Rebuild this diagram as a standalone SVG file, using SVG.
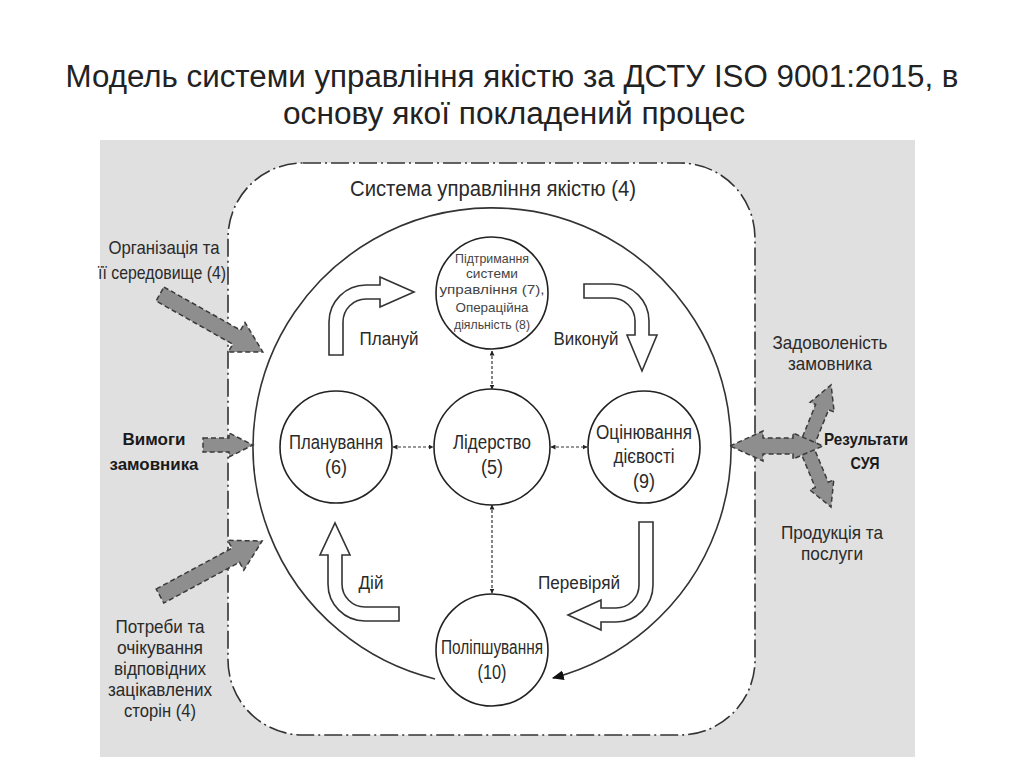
<svg xmlns="http://www.w3.org/2000/svg" width="1024" height="767" viewBox="0 0 1024 767">
<defs>
<style>
.t{font-family:"Liberation Sans",Arial,sans-serif;fill:#2a2a2a;text-anchor:middle}
.title{font-family:"Liberation Sans",Arial,sans-serif;fill:#222;font-size:31px;text-anchor:middle}
.b{font-family:"Liberation Sans",Arial,sans-serif;font-weight:bold;fill:#1a1a1a;text-anchor:middle;font-size:17px}
.s{font-size:13px;fill:#444}
.c{font-size:20px}
.o{font-size:19px}
.l{font-size:18px}
.node{fill:#fff;stroke:#222;stroke-width:1.6}
.bent{fill:#fff;stroke:#333;stroke-width:1.6;stroke-linejoin:miter}
.garrow{fill:#8e8e8e;stroke:#3a3a3a;stroke-width:1.5;stroke-dasharray:5 3}
.conn{fill:none;stroke:#333;stroke-width:1.2;stroke-dasharray:3 2}
</style>
<marker id="ah" viewBox="0 0 10 10" refX="9" refY="5" markerWidth="5" markerHeight="5" orient="auto-start-reverse" markerUnits="userSpaceOnUse">
<path d="M0,0 L10,5 L0,10 Z" fill="#222"/>
</marker>
<marker id="ahb" viewBox="0 0 10 10" refX="9" refY="5" markerWidth="12" markerHeight="12" orient="auto" markerUnits="userSpaceOnUse">
<path d="M0,1 L10,5 L0,9 Z" fill="#111"/>
</marker>
</defs>
<rect x="0" y="0" width="1024" height="767" fill="#fff"/>
<text class="title" x="512" y="87" textLength="893" lengthAdjust="spacingAndGlyphs">Модель системи управління якістю за ДСТУ ISO 9001:2015, в</text>
<text class="title" x="514" y="124" textLength="462" lengthAdjust="spacingAndGlyphs">основу якої покладений процес</text>
<rect x="100" y="140" width="815" height="617" fill="#e0e0e0"/>
<g id="system">
<rect x="228" y="163" width="527" height="572" rx="75" ry="75" fill="#fff" stroke="#333" stroke-width="1.6" stroke-dasharray="18 4 2 4"/>
<text class="t" x="493" y="196" font-size="22" textLength="286" lengthAdjust="spacingAndGlyphs">Система управління якістю (4)</text>
</g>
<g id="connectors">
<path class="conn" d="M 435 679 A 239 239 0 1 1 553 678" style="stroke-dasharray:none;stroke-width:1.6" marker-end="url(#ahb)"/>
<line class="conn" x1="492" y1="351" x2="492" y2="389" marker-start="url(#ah)" marker-end="url(#ah)"/>
<line class="conn" x1="393" y1="447" x2="433" y2="447" marker-start="url(#ah)" marker-end="url(#ah)"/>
<line class="conn" x1="551" y1="447" x2="587" y2="447" marker-start="url(#ah)" marker-end="url(#ah)"/>
<line class="conn" x1="492" y1="505" x2="492" y2="593" marker-start="url(#ah)" marker-end="url(#ah)"/>
</g>
<g id="cycle-arrows">
<path class="bent" d="M 329 355 L 329 322 A 37 37 0 0 1 366 285 L 380 285 L 380 277 L 414 292 L 380 307 L 380 299 L 366 299 A 23 23 0 0 0 343 322 L 343 355 Z"/>
<path class="bent" d="M 584 284 L 612 284 A 37 37 0 0 1 649 321 L 649 335 L 657 335 L 642 371 L 627 335 L 635 335 L 635 321 A 23 23 0 0 0 612 298 L 584 298 Z"/>
<path class="bent" d="M 639 522 L 653 522 L 653 585 A 37 37 0 0 1 616 622 L 601 622 L 601 630 L 568 615 L 601 600 L 601 608 L 616 608 A 23 23 0 0 0 639 585 Z"/>
<path class="bent" d="M 342 555 L 350 555 L 335 523 L 320 555 L 328 555 L 328 584 A 37 37 0 0 0 365 621 L 399 621 L 399 607 L 365 607 A 23 23 0 0 1 342 584 Z"/>
<text class="t l" x="389" y="345" textLength="59" lengthAdjust="spacingAndGlyphs">Плануй</text>
<text class="t l" x="586" y="345" textLength="65" lengthAdjust="spacingAndGlyphs">Виконуй</text>
<text class="t l" x="371" y="589" textLength="25" lengthAdjust="spacingAndGlyphs">Дій</text>
<text class="t l" x="579" y="589" textLength="82" lengthAdjust="spacingAndGlyphs">Перевіряй</text>
</g>
<g id="node-support">
<circle class="node" cx="492" cy="293" r="56"/>
<text class="t s" x="492" y="263" textLength="74" lengthAdjust="spacingAndGlyphs">Підтримання</text>
<text class="t s" x="492" y="278" textLength="52" lengthAdjust="spacingAndGlyphs">системи</text>
<text class="t s" x="492" y="294" textLength="105" lengthAdjust="spacingAndGlyphs">управління (7),</text>
<text class="t s" x="492" y="312" textLength="73" lengthAdjust="spacingAndGlyphs">Операційна</text>
<text class="t s" x="492" y="329" textLength="76" lengthAdjust="spacingAndGlyphs">діяльність (8)</text>
</g>
<g id="node-leadership">
<circle class="node" cx="492" cy="447" r="58"/>
<text class="t c" x="492" y="449" textLength="78" lengthAdjust="spacingAndGlyphs">Лідерство</text>
<text class="t c" x="492" y="474" textLength="22" lengthAdjust="spacingAndGlyphs">(5)</text>
</g>
<g id="node-planning">
<circle class="node" cx="336" cy="447" r="56"/>
<text class="t c" x="336" y="449" textLength="94" lengthAdjust="spacingAndGlyphs">Планування</text>
<text class="t c" x="336" y="474" textLength="22" lengthAdjust="spacingAndGlyphs">(6)</text>
</g>
<g id="node-evaluation">
<circle class="node" cx="644" cy="447" r="56"/>
<text class="t c" x="644" y="439" textLength="96" lengthAdjust="spacingAndGlyphs">Оцінювання</text>
<text class="t c" x="644" y="463" textLength="61" lengthAdjust="spacingAndGlyphs">дієвості</text>
<text class="t c" x="644" y="488" textLength="22" lengthAdjust="spacingAndGlyphs">(9)</text>
</g>
<g id="node-improvement">
<circle class="node" cx="492" cy="650" r="56"/>
<text class="t c" x="492" y="654" textLength="102" lengthAdjust="spacingAndGlyphs">Поліпшування</text>
<text class="t c" x="492" y="679" textLength="29" lengthAdjust="spacingAndGlyphs">(10)</text>
</g>
<g id="input-org">
<text class="t o" x="164" y="254" textLength="111" lengthAdjust="spacingAndGlyphs">Організація та</text>
<text class="t o" x="162" y="279" textLength="128" lengthAdjust="spacingAndGlyphs">її середовище (4)</text>
<polygon class="garrow" transform="translate(160,294) rotate(29.4)" points="0,-8 88,-8 88,-17 118,0 88,17 88,8 0,8"/>
</g>
<g id="input-req">
<text class="b" x="154" y="445" textLength="63" lengthAdjust="spacingAndGlyphs">Вимоги</text>
<text class="b" x="154" y="470" textLength="89" lengthAdjust="spacingAndGlyphs">замовника</text>
<polygon class="garrow" points="203,438 229,438 229,433 253,445 229,457 229,452 203,452"/>
</g>
<g id="input-needs">
<polygon class="garrow" transform="translate(160,596) rotate(-28.3)" points="0,-8 86,-8 86,-17 116,0 86,17 86,8 0,8"/>
<text class="t o" x="160" y="633" textLength="89" lengthAdjust="spacingAndGlyphs">Потреби та</text>
<text class="t o" x="160" y="654" textLength="86" lengthAdjust="spacingAndGlyphs">очікування</text>
<text class="t o" x="160" y="675" textLength="92" lengthAdjust="spacingAndGlyphs">відповідних</text>
<text class="t o" x="160" y="696" textLength="104" lengthAdjust="spacingAndGlyphs">зацікавлених</text>
<text class="t o" x="160" y="717" textLength="72" lengthAdjust="spacingAndGlyphs">сторін (4)</text>
</g>
<g id="output-results">
<polygon class="garrow" transform="translate(806,447) rotate(-68)" points="0,-7 43,-7 43,-13 67,0 43,13 43,7 0,7"/>
<polygon class="garrow" transform="translate(806,447) rotate(67.4)" points="0,-7 41,-7 41,-13 65,0 41,13 41,7 0,7"/>
<polygon class="garrow" points="730,446 763,431 763,438 793,438 793,433 823,446 793,459 793,454 763,454 763,461"/>
<text class="t o" x="830" y="349" textLength="115" lengthAdjust="spacingAndGlyphs">Задоволеність</text>
<text class="t o" x="830" y="370" textLength="84" lengthAdjust="spacingAndGlyphs">замовника</text>
<text class="b" x="866" y="445" textLength="84" lengthAdjust="spacingAndGlyphs">Результати</text>
<text class="b" x="865" y="469" textLength="29" lengthAdjust="spacingAndGlyphs">СУЯ</text>
<text class="t o" x="832" y="539" textLength="102" lengthAdjust="spacingAndGlyphs">Продукція та</text>
<text class="t o" x="832" y="560" textLength="62" lengthAdjust="spacingAndGlyphs">послуги</text>
</g>
</svg>
